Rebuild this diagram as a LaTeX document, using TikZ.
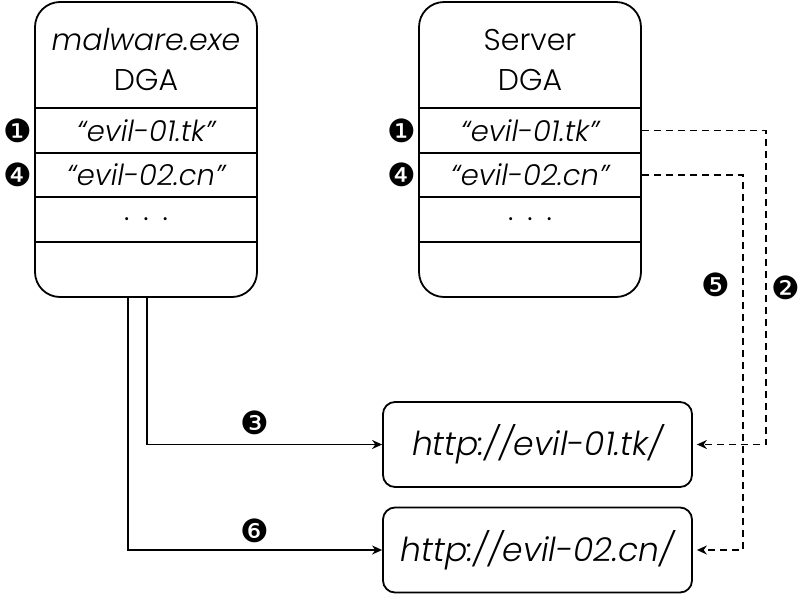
\documentclass[tikz,border=0pt]{standalone}
\usepackage{fontspec}
\setmainfont{Poppins}[UprightFont=* Light, ItalicFont=* Light Italic]
\newfontfamily\dingfont{DejaVu Sans}
\usetikzlibrary{arrows.meta,positioning}

\begin{document}
\begin{tikzpicture}[x=1pt,y=-1pt,
    every node/.style={font=\fontsize{30}{40}\selectfont},
    dga/.style={draw,line width=1.8pt,rounded corners=25pt,minimum width=222pt,minimum height=295pt},
    slot/.style={draw,line width=1.8pt,minimum width=222pt,minimum height=44.5pt,inner sep=0pt,font=\fontsize{29}{30}\selectfont\itshape},
    url/.style={draw,line width=1.8pt,rounded corners=12pt,minimum width=309pt,minimum height=85pt,font=\fontsize{33}{36}\selectfont\itshape},
    num/.style={font=\dingfont\fontsize{32}{32}\selectfont,inner sep=0pt},
    link/.style={line width=1.8pt,-{Stealth[length=10pt,width=9pt]}},
    query/.style={link,dash pattern=on 7pt off 5pt,shorten >=4pt}]
  \useasboundingbox (0,0) rectangle (801,595);

  % malware side
  \node[dga] (mal) at (146,149.5) {};
  \node[align=center] (maltitle) at (146,60) {\itshape malware.exe\\DGA};
  \node[slot] (mal1) at (146,130.5) {“evil-01.tk”};
  \node[slot] (mal2) at (146,175) {“evil-02.cn”};
  \node[slot,font=\fontsize{29}{30}\selectfont] (mal3) at (146,219.5) {.\hspace{14pt}.\hspace{14pt}.};
  \node[num,left=2pt of mal1] {❶};
  \node[num,left=2pt of mal2] {❹};

  % server side
  \node[dga] (srv) at (530,149.5) {};
  \node[align=center] (srvtitle) at (530,60) {Server\\DGA};
  \node[slot] (srv1) at (530,130.5) {“evil-01.tk”};
  \node[slot] (srv2) at (530,175) {“evil-02.cn”};
  \node[slot,font=\fontsize{29}{30}\selectfont] (srv3) at (530,219.5) {.\hspace{14pt}.\hspace{14pt}.};
  \node[num,left=2pt of srv1] {❶};
  \node[num,left=2pt of srv2] {❹};

  % domains
  \node[url] (url1) at (537.5,444.5) {http://evil-01.tk/};
  \node[url] (url2) at (537.5,550) {http://evil-02.cn/};

  \draw[query] (srv1.east) -- ++(124,0) |- node[num,pos=0.25,right=5pt]{❷} (url1.east);
  \draw[query] (srv2.east) -- ++(101,0) |- node[num,pos=0.147,left=12pt]{❺} (url2.east);
  \draw[link] ([xshift=1pt]mal.south) |- node[num,pos=0.73,above=9pt]{❸} (url1.west);
  \draw[link] ([xshift=-18pt]mal.south) |- node[num,pos=0.75,above=6pt]{❻} (url2.west);
\end{tikzpicture}
\end{document}
